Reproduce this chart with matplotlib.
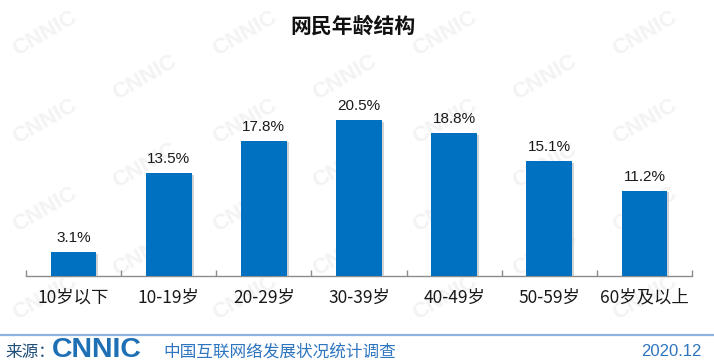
import matplotlib
matplotlib.use("Agg")
import matplotlib.pyplot as plt
import matplotlib.patheffects as pe
import numpy as np

plt.rcParams['font.family'] = ['Noto Sans CJK SC', 'DejaVu Sans']

# Data
categories = ["10岁以下", "10-19岁", "20-29岁", "30-39岁", "40-49岁", "50-59岁", "60岁及以上"]
shares = [3.1, 13.5, 17.8, 20.5, 18.8, 15.1, 11.2]
value_labels = ["3.1%", "13.5%", "17.8%", "20.5%", "18.8%", "15.1%", "11.2%"]
title = "网民年龄结构"
source_text = "中国互联网络发展状况统计调查"
date_text = "2020.12"

W, H = 714, 364
fig = plt.figure(figsize=(W / 100, H / 100), dpi=100)
fig.patch.set_facecolor("white")

# Background watermark (behind everything)
bg = fig.add_axes([0, 0, 1, 1], zorder=-5)
bg.set_xlim(0, W)
bg.set_ylim(H, 0)
bg.axis("off")
for row in range(8):
    for col in range(4):
        wx = col * 200 + (row % 2) * 100 + 45
        wy = row * 44 + 34
        if wx > W - 40 or wy > H - 25:
            continue
        bg.text(wx, wy, "CNNIC", fontsize=16, fontweight="bold",
                color="#f3f3f3", rotation=30, ha="center", va="center",
                family="Liberation Sans")

ax = fig.add_axes([26 / W, 88 / H, 666 / W, 190 / H], zorder=1)
ax.patch.set_alpha(0)

x = np.arange(len(categories))
bars = ax.bar(x, shares, width=0.48, color="#0070C0", zorder=3)
for b in bars:
    b.set_path_effects([pe.SimplePatchShadow(offset=(1.5, -1), shadow_rgbFace="#c8c8c8", alpha=0.8),
                        pe.Normal()])

for xi, v, lab in zip(x, shares, value_labels):
    ax.annotate(lab, (xi, v), xytext=(0, 5), textcoords="offset points",
                ha="center", va="bottom", fontsize=11, color="#1a1a1a",
                family=["Liberation Sans", "DejaVu Sans"])

ax.set_xlim(-0.5, len(categories) - 0.5)
ax.set_ylim(0, 25)
for s in ["top", "right", "left"]:
    ax.spines[s].set_visible(False)
ax.spines["bottom"].set_color("#8c8c8c")
ax.spines["bottom"].set_linewidth(1.0)
ax.set_yticks([])
ax.set_xticks(x)
ax.set_xticklabels(categories, fontsize=12.5, color="#1a1a1a")
ax.tick_params(axis="x", which="major", length=0, pad=9)
ax.set_xticks(np.arange(-0.5, len(categories)), minor=True)
ax.tick_params(axis="x", which="minor", direction="in", length=4.5, color="#8c8c8c", width=1)

fig.text(353 / W, 1 - 26 / H, title, fontsize=15, fontweight="bold",
         ha="center", va="center", color="#111111")

# Footer
fig.add_artist(plt.Line2D([0, 1], [1 - 335 / H, 1 - 335 / H], color="#8DB3E2", lw=1.6,
                          transform=fig.transFigure))
fig.text(5 / W, 1 - 352 / H, "来源：", fontsize=12, color="#1F4E79", ha="left", va="center")
fig.text(52 / W, 1 - 350 / H, "CNNIC", fontsize=20.5, fontweight="bold", color="#1F6FB5",
         ha="left", va="center", family="Liberation Sans")
fig.text(163 / W, 1 - 352 / H, source_text, fontsize=12, color="#2E75C0", ha="left", va="center")
fig.text(701 / W, 1 - 352 / H, date_text, fontsize=12, color="#2E75C0", ha="right", va="center",
         family=["Liberation Sans", "DejaVu Sans"])

fig.savefig("out.png", dpi=100)
